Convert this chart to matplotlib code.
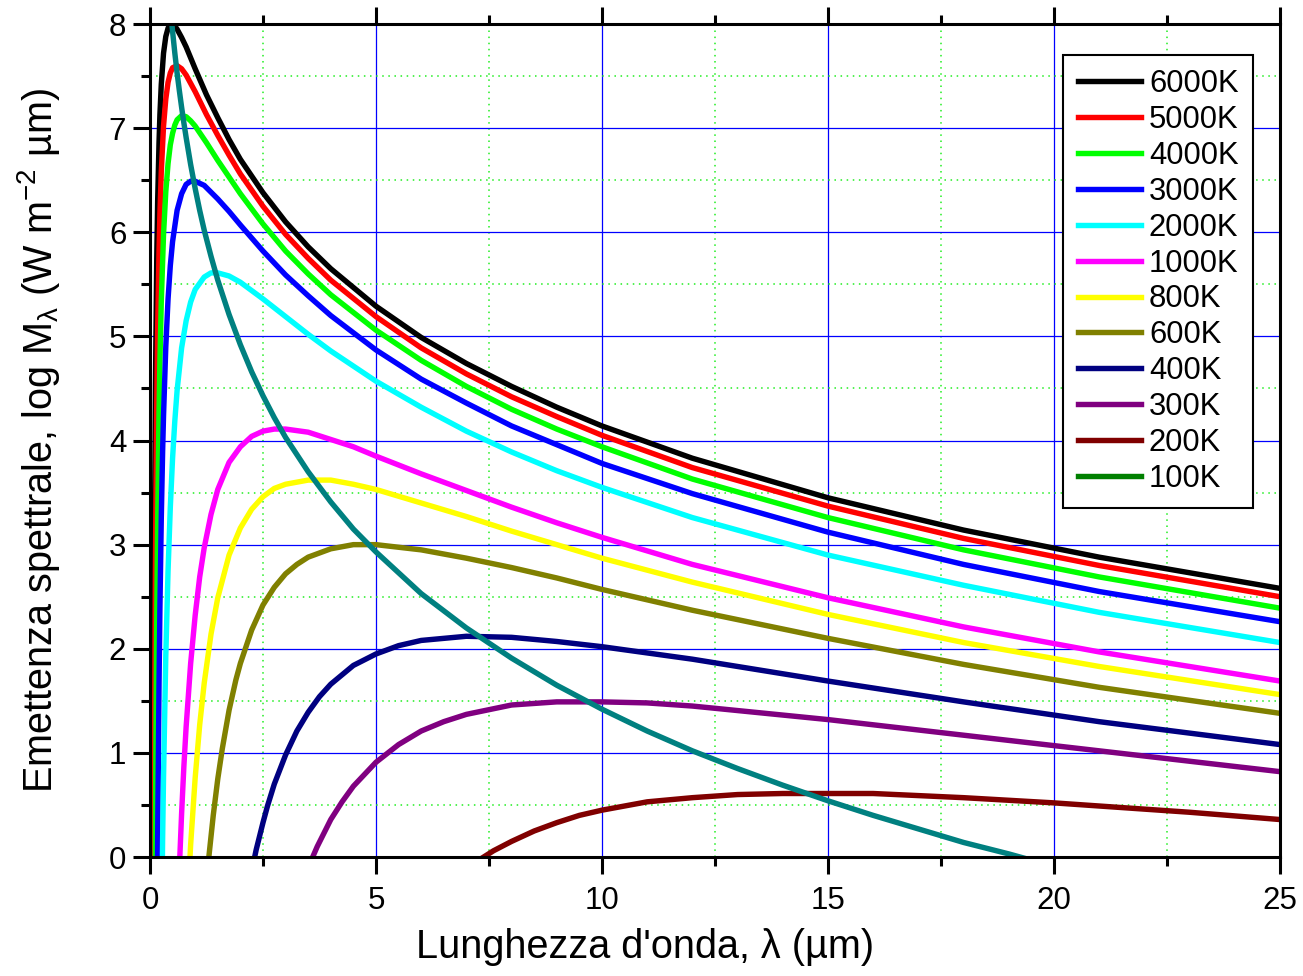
import matplotlib.pyplot as plt
from matplotlib.ticker import MultipleLocator

plt.rcParams['font.family'] = ['Liberation Sans', 'DejaVu Sans']
plt.rcParams['mathtext.fontset'] = 'custom'
plt.rcParams['mathtext.rm'] = 'Liberation Sans'
plt.rcParams['mathtext.it'] = 'Liberation Sans'

# spectral emittance curves, log10 M_lambda
lam_6000 = [0.07, 0.08, 0.09, 0.10, 0.12, 0.15, 0.17, 0.20, 0.22, 0.25, 0.30, 0.35, 0.40, 0.45, 0.50, 0.55, 0.60, 0.70, 0.80,
            1.0, 1.25, 1.5, 1.75, 2, 2.5, 3, 3.5, 4, 5, 6, 7, 8, 9, 10, 12, 15, 18, 21, 25]
log_6000 = [-0.53, 1.04, 2.23, 3.16, 4.50, 5.75, 6.30, 6.86, 7.13, 7.42, 7.72, 7.88, 7.96, 8.00, 8.00, 7.98, 7.95, 7.87, 7.78,
            7.57, 7.32, 7.10, 6.89, 6.70, 6.38, 6.10, 5.86, 5.65, 5.29, 4.99, 4.74, 4.52, 4.32, 4.14, 3.83, 3.45, 3.14, 2.88, 2.58]

lam_5000 = [0.08, 0.09, 0.10, 0.12, 0.15, 0.17, 0.20, 0.22, 0.25, 0.30, 0.35, 0.40, 0.45, 0.50, 0.60, 0.70, 0.80,
            1.0, 1.25, 1.5, 1.75, 2, 2.5, 3, 3.5, 4, 5, 6, 7, 8, 9, 10, 12, 15, 18, 21, 25]
log_5000 = [-1.56, -0.08, 1.08, 2.76, 4.36, 5.07, 5.82, 6.18, 6.58, 7.02, 7.28, 7.44, 7.53, 7.58, 7.60, 7.57, 7.51,
            7.35, 7.13, 6.93, 6.74, 6.56, 6.25, 5.98, 5.75, 5.54, 5.19, 4.89, 4.64, 4.42, 4.23, 4.05, 3.74, 3.37, 3.06, 2.80, 2.50]

lam_4000 = [0.10, 0.11, 0.12, 0.13, 0.15, 0.17, 0.20, 0.22, 0.25, 0.30, 0.35, 0.40, 0.45, 0.50, 0.55, 0.60, 0.70, 0.80, 0.90,
            1.0, 1.25, 1.5, 1.75, 2, 2.5, 3, 3.5, 4, 5, 6, 7, 8, 9, 10, 12, 15, 18, 21, 25]
log_4000 = [-2.05, -0.84, 0.16, 0.99, 2.28, 3.23, 4.26, 4.76, 5.33, 5.98, 6.39, 6.66, 6.84, 6.95, 7.03, 7.08, 7.12, 7.11, 7.07,
            7.02, 6.86, 6.69, 6.53, 6.37, 6.08, 5.82, 5.60, 5.40, 5.06, 4.77, 4.52, 4.30, 4.11, 3.94, 3.63, 3.26, 2.95, 2.69, 2.39]

lam_3000 = [0.15, 0.17, 0.20, 0.22, 0.25, 0.28, 0.30, 0.35, 0.40, 0.45, 0.50, 0.60, 0.70, 0.80, 0.90,
            1.0, 1.2, 1.5, 1.75, 2, 2.5, 3, 3.5, 4, 5, 6, 7, 8, 9, 10, 12, 15, 18, 21, 25]
log_3000 = [-1.19, 0.17, 1.65, 2.39, 3.25, 3.90, 4.24, 4.90, 5.36, 5.68, 5.91, 6.21, 6.37, 6.46, 6.49,
            6.49, 6.45, 6.32, 6.20, 6.07, 5.82, 5.59, 5.39, 5.20, 4.87, 4.59, 4.36, 4.14, 3.96, 3.78, 3.49, 3.12, 2.81, 2.55, 2.26]

lam_2000 = [0.25, 0.28, 0.30, 0.35, 0.40, 0.45, 0.50, 0.55, 0.60, 0.70, 0.80, 0.90, 1.0, 1.2, 1.35, 1.5, 1.75,
            2, 2.25, 2.5, 3, 3.5, 4, 5, 6, 7, 8, 9, 10, 12, 15, 18, 21, 25]
log_2000 = [-0.92, 0.18, 0.77, 1.93, 2.75, 3.36, 3.83, 4.19, 4.48, 4.89, 5.15, 5.33, 5.45, 5.57, 5.61, 5.61, 5.58,
            5.52, 5.44, 5.36, 5.19, 5.02, 4.86, 4.57, 4.32, 4.09, 3.89, 3.71, 3.55, 3.26, 2.90, 2.61, 2.35, 2.06]

lam_1000 = [0.6, 0.65, 0.7, 0.75, 0.8, 0.9, 1.0, 1.1, 1.2, 1.35, 1.5, 1.75, 2, 2.25, 2.5, 2.75, 3, 3.5, 4, 4.5,
            5, 6, 7, 8, 9, 10, 12, 15, 18, 21, 25]
log_1000 = [-0.73, -0.11, 0.42, 0.87, 1.25, 1.86, 2.32, 2.69, 2.97, 3.29, 3.53, 3.79, 3.94, 4.04, 4.09, 4.11, 4.11, 4.08, 4.01, 3.94,
            3.85, 3.68, 3.52, 3.36, 3.21, 3.07, 2.81, 2.49, 2.21, 1.97, 1.69]

lam_800 = [0.8, 0.9, 1.0, 1.1, 1.2, 1.35, 1.5, 1.75, 2, 2.25, 2.5, 2.75, 3, 3.5, 4, 4.5,
           5, 6, 7, 8, 9, 10, 12, 15, 18, 21, 25]
log_800 = [-0.71, 0.12, 0.76, 1.27, 1.67, 2.14, 2.49, 2.90, 3.16, 3.34, 3.46, 3.54, 3.58, 3.62, 3.62, 3.58,
           3.53, 3.40, 3.27, 3.13, 3.00, 2.87, 2.64, 2.33, 2.06, 1.83, 1.56]

lam_600 = [1.2, 1.3, 1.4, 1.5, 1.6, 1.75, 1.9, 2, 2.25, 2.5, 2.75, 3, 3.25, 3.5, 4, 4.5,
           5, 6, 7, 8, 9, 10, 12, 15, 18, 21, 25]
log_600 = [-0.50, -0.01, 0.40, 0.75, 1.04, 1.41, 1.70, 1.86, 2.18, 2.42, 2.59, 2.72, 2.81, 2.88, 2.96, 3.00,
           3.00, 2.95, 2.87, 2.78, 2.68, 2.57, 2.37, 2.10, 1.85, 1.63, 1.38]

lam_400 = [2.2, 2.35, 2.5, 2.6, 2.75, 3, 3.25, 3.5, 3.75, 4, 4.5, 5, 5.5, 6, 7, 8, 9, 10, 12, 15, 18, 21, 25]
log_400 = [-0.24, 0.07, 0.33, 0.49, 0.70, 0.98, 1.21, 1.39, 1.54, 1.66, 1.84, 1.95, 2.03, 2.08, 2.12, 2.11, 2.07, 2.02, 1.90, 1.69, 1.49, 1.30, 1.08]

lam_300 = [3.4, 3.55, 3.7, 4, 4.25, 4.5, 5, 5.5, 6, 6.5, 7, 8, 9, 10, 11, 12, 15, 18, 21, 25]
log_300 = [-0.21, -0.05, 0.10, 0.36, 0.53, 0.68, 0.91, 1.08, 1.21, 1.30, 1.37, 1.46, 1.49, 1.49, 1.48, 1.45, 1.32, 1.17, 1.02, 0.82]

lam_200 = [7.2, 7.6, 8, 8.5, 9, 9.5, 10, 11, 12, 13, 14, 15, 16, 18, 20, 21, 23, 25]
log_200 = [-0.05, 0.06, 0.15, 0.25, 0.33, 0.40, 0.45, 0.53, 0.57, 0.60, 0.61, 0.61, 0.61, 0.57, 0.52, 0.49, 0.43, 0.36]

lam_100 = [10, 15, 20, 25]
log_100 = [-2.68, -1.47, -1.06, -0.92]

# locus of the maxima
lam_peak = [0.45, 0.5, 0.55, 0.6, 0.65, 0.7, 0.75, 0.8, 0.9, 1.0, 1.1, 1.2, 1.35, 1.5, 1.75, 2, 2.25, 2.5, 2.75, 3,
            3.5, 4, 4.5, 5, 6, 7, 8, 9, 10, 11, 12, 13, 14, 15, 16, 17, 18, 19, 20]
log_peak = [8.15, 7.93, 7.72, 7.53, 7.36, 7.20, 7.05, 6.91, 6.65, 6.42, 6.21, 6.02, 5.77, 5.54, 5.21, 4.92, 4.66, 4.43, 4.22, 4.03,
            3.70, 3.41, 3.15, 2.93, 2.53, 2.20, 1.91, 1.65, 1.42, 1.21, 1.02, 0.85, 0.69, 0.54, 0.40, 0.27, 0.14, 0.03, -0.09]

labels = ['6000K', '5000K', '4000K', '3000K', '2000K', '1000K',
          '800K', '600K', '400K', '300K', '200K', '100K']
colors = ['#000000', '#ff0000', '#00ff00', '#0000ff', '#00ffff', '#ff00ff',
          '#ffff00', '#808000', '#000080', '#800080', '#800000', '#008000']
curves = [(lam_6000, log_6000), (lam_5000, log_5000), (lam_4000, log_4000),
          (lam_3000, log_3000), (lam_2000, log_2000), (lam_1000, log_1000),
          (lam_800, log_800), (lam_600, log_600), (lam_400, log_400),
          (lam_300, log_300), (lam_200, log_200), (lam_100, log_100)]

fig = plt.figure(figsize=(13.03, 9.76), dpi=100)
ax = fig.add_axes([0.1151, 0.1219, 0.8672, 0.8535])

for (lx, ly), lab, c in zip(curves, labels, colors):
    ax.plot(lx, ly, color=c, lw=3.9, label=lab, solid_joinstyle='round')
ax.plot(lam_peak, log_peak, color='#008080', lw=3.9, solid_joinstyle='round')

ax.set_xlim(0, 25)
ax.set_ylim(0, 8)
ax.xaxis.set_major_locator(MultipleLocator(5))
ax.xaxis.set_minor_locator(MultipleLocator(2.5))
ax.yaxis.set_major_locator(MultipleLocator(1))
ax.yaxis.set_minor_locator(MultipleLocator(0.5))

ax.grid(which='major', color='#0000ff', lw=0.9, ls='-')
ax.grid(which='minor', color='#22ee22', lw=1.1, ls=(0, (1, 3)))
ax.set_axisbelow(True)

for s in ax.spines.values():
    s.set_linewidth(2.2)
ax.tick_params(which='both', direction='out', width=2.2, top=True, right=False,
               labelsize=22.5)
ax.tick_params(which='major', length=12)
ax.tick_params(which='minor', length=6.5)
ax.tick_params(axis='x', pad=9)
ax.tick_params(axis='y', pad=5)

ax.set_xlabel("Lunghezza d'onda, λ (µm)", fontsize=28.5)
ax.set_ylabel(r'Emettenza spettrale, log M$_{λ}$ (W m$^{-2}$ µm)', fontsize=28.5)
ax.xaxis.set_label_coords(0.438, -0.085)
ax.yaxis.set_label_coords(-0.078, 0.5)

leg = ax.legend(loc='upper right', bbox_to_anchor=(0.976, 0.963), borderaxespad=0,
                fontsize=22.3, handlelength=2.05, handletextpad=0.25, labelspacing=0.19,
                borderpad=0.46, fancybox=False, framealpha=1, edgecolor='black')
leg.get_frame().set_linewidth(1.5)

fig.savefig('out.png', dpi=100)
